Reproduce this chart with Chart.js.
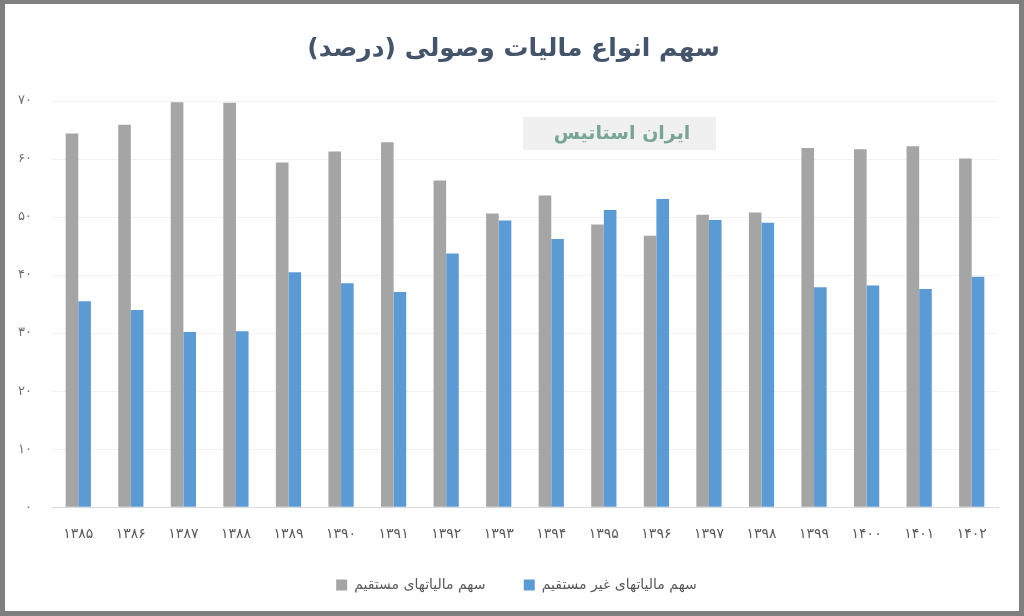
<!DOCTYPE html>
<html lang="fa">

<head>
  <meta charset="UTF-8">
  <title>سهم انواع مالیات وصولی</title>
  <script src="https://cdn.jsdelivr.net/npm/chart.js@4.4.0/dist/chart.umd.min.js"></script>
  <style>
    html, body {
      margin: 0;
      padding: 0;
      background: #ffffff;
    }
    #frame {
      width: 1024px;
      height: 616px;
      box-sizing: border-box;
      border: 5px solid #7f7f7f;
      border-top-width: 4px;
      background: #ffffff;
    }
  </style>
</head>

<body>
  <div id="frame">
    <canvas id="taxChart" width="1014" height="607"></canvas>
  </div>

  <script>
    // years (solar hijri)
    const years = ['۱۳۸۵', '۱۳۸۶', '۱۳۸۷', '۱۳۸۸', '۱۳۸۹', '۱۳۹۰', '۱۳۹۱', '۱۳۹۲', '۱۳۹۳',
      '۱۳۹۴', '۱۳۹۵', '۱۳۹۶', '۱۳۹۷', '۱۳۹۸', '۱۳۹۹', '۱۴۰۰', '۱۴۰۱', '۱۴۰۲'];

    // share of direct taxes (%)
    const directShare = [64.4, 65.9, 69.8, 69.7, 59.4, 61.3, 62.9, 56.3, 50.6,
      53.7, 48.7, 46.8, 50.4, 50.8, 61.9, 61.7, 62.2, 60.1];

    // share of indirect taxes (%)
    const indirectShare = [35.5, 34.0, 30.2, 30.3, 40.5, 38.6, 37.1, 43.7, 49.4,
      46.2, 51.2, 53.1, 49.5, 49.0, 37.9, 38.2, 37.6, 39.7];

    const yTicks = [0, 10, 20, 30, 40, 50, 60, 70];

    const faDigits = ['۰', '۱', '۲', '۳', '۴', '۵', '۶', '۷', '۸', '۹'];
    function toFa(n) {
      return String(n).replace(/[0-9]/g, d => faDigits[+d]);
    }

    const fontFamily = '"DejaVu Sans", "Noto Sans", sans-serif';

    // the grey "ایران استاتیس" stamp
    const watermark = {
      id: 'watermark',
      afterDraw(chart) {
        const ctx = chart.ctx;
        ctx.save();
        ctx.fillStyle = '#f0f0f0';
        ctx.fillRect(518, 113, 193, 33);
        ctx.fillStyle = '#79a597';
        ctx.font = 'bold 19px ' + fontFamily;
        ctx.textAlign = 'center';
        ctx.textBaseline = 'middle';
        ctx.direction = 'rtl';
        ctx.fillText('ایران استاتیس', 617, 130);
        ctx.restore();
      }
    };

    // title and legend sit a bit right of the canvas centre in the original
    const centreShift = {
      id: 'centreShift',
      afterLayout(chart) {
        if (chart.titleBlock) {
          chart.titleBlock.left += 12;
          chart.titleBlock.right += 12;
        }
        if (chart.legend) {
          chart.legend.left += 15;
          chart.legend.right += 15;
        }
      }
    };

    new Chart(document.getElementById('taxChart'), {
      type: 'bar',
      data: {
        labels: years,
        datasets: [
          {
            label: 'سهم مالیاتهای مستقیم',
            data: directShare,
            backgroundColor: '#a5a5a5'
          },
          {
            label: 'سهم مالیاتهای غیر مستقیم',
            data: indirectShare,
            backgroundColor: '#5b9bd5'
          }
        ]
      },
      options: {
        responsive: false,
        animation: false,
        layout: {
          padding: { left: 0, right: 21, top: 0, bottom: 9 }
        },
        datasets: {
          bar: {
            categoryPercentage: 0.48,
            barPercentage: 1.0
          }
        },
        plugins: {
          title: {
            display: true,
            text: 'سهم انواع مالیات وصولی (درصد)',
            color: '#44546a',
            font: { family: fontFamily, size: 25, weight: 'bold' },
            padding: { top: 30, bottom: 37 }
          },
          legend: {
            position: 'bottom',
            labels: {
              color: '#595959',
              boxWidth: 11,
              boxHeight: 11,
              padding: 16,
              font: { family: fontFamily, size: 14 },
              generateLabels(chart) {
                const items = Chart.defaults.plugins.legend.labels.generateLabels(chart);
                // wider gap after the first entry
                items[0].text += '\u00A0\u00A0\u00A0\u00A0\u00A0';
                return items;
              }
            }
          },
          tooltip: { enabled: false }
        },
        scales: {
          x: {
            grid: { display: false, drawTicks: false },
            border: { color: '#d9d9d9' },
            ticks: {
              color: '#595959',
              padding: 19,
              font: { family: fontFamily, size: 14 }
            }
          },
          y: {
            min: 0,
            max: 70,
            afterBuildTicks(axis) {
              axis.ticks = yTicks.map(v => ({ value: v }));
            },
            afterFit(axis) {
              axis.width = 47;
            },
            grid: { color: '#f2f2f2', drawTicks: false },
            border: { display: false },
            ticks: {
              color: '#6f6f6f',
              padding: 20,
              font: { family: fontFamily, size: 13 },
              callback: v => toFa(v)
            }
          }
        }
      },
      plugins: [watermark, centreShift]
    });
  </script>
</body>

</html>
